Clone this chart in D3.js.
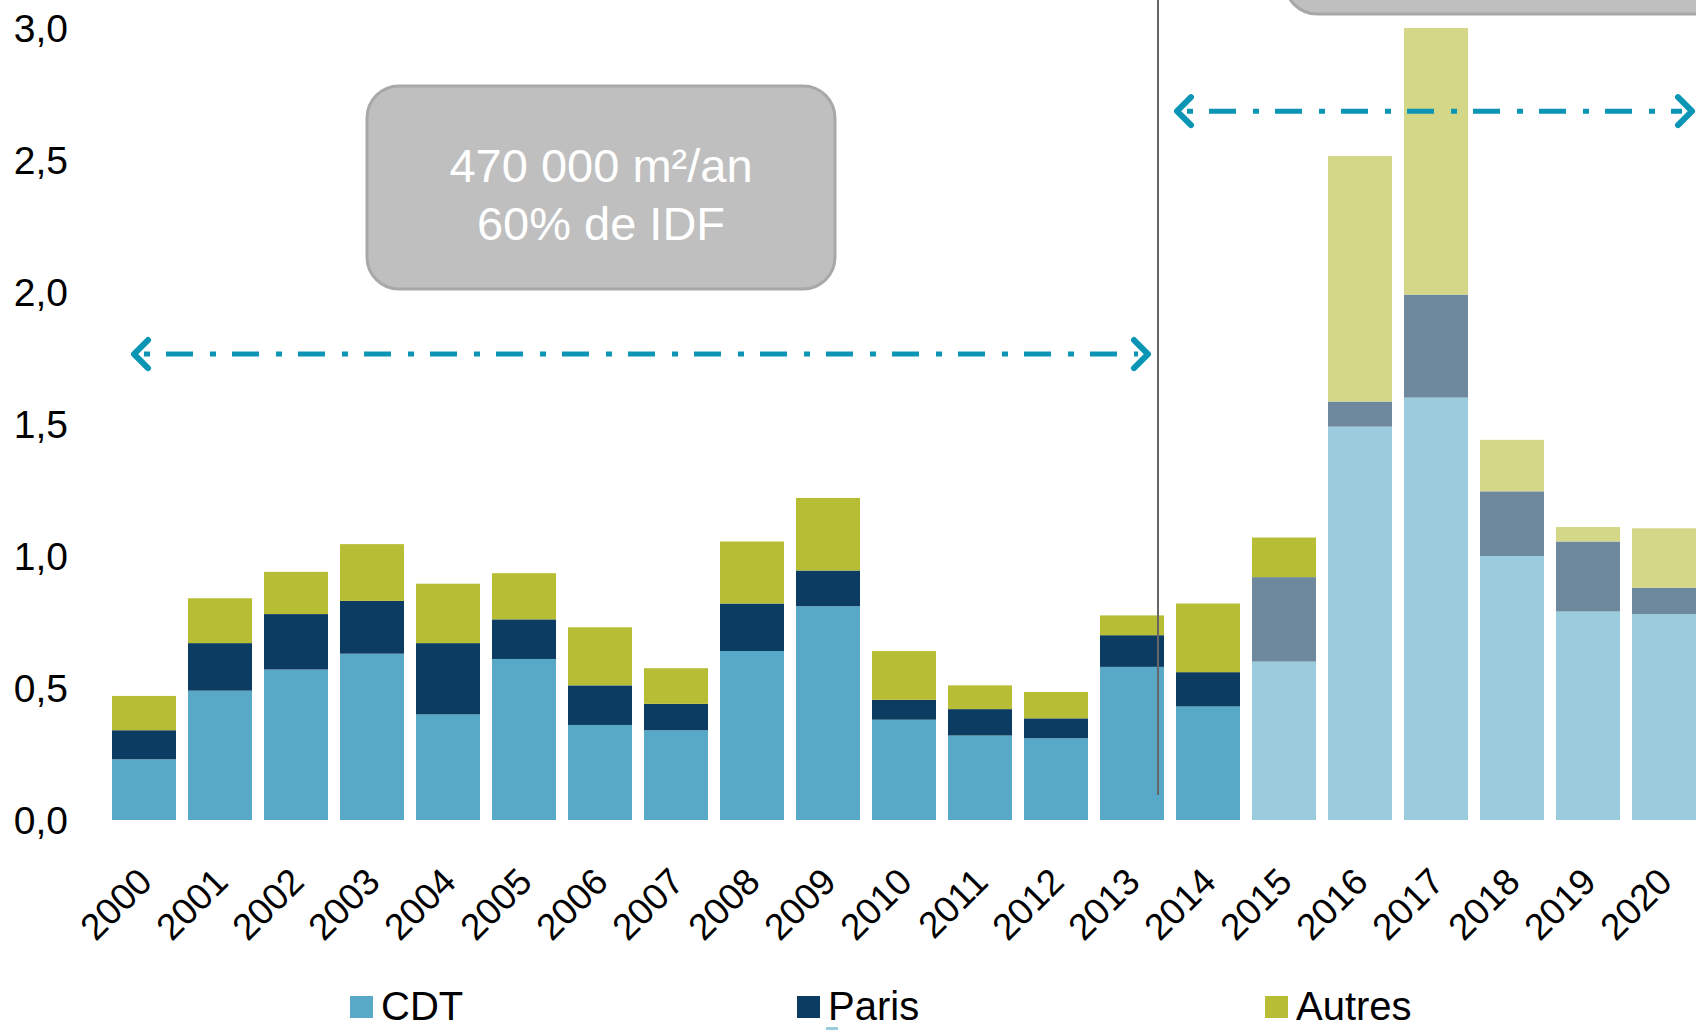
<!DOCTYPE html>
<html>
<head>
<meta charset="utf-8">
<script src="https://cdn.jsdelivr.net/npm/d3@7"></script>
<style>
  html, body { margin: 0; padding: 0; background: #fff; }
  svg { display: block; }
  text { font-family: "Liberation Sans", Arial, sans-serif; }
</style>
</head>
<body>
<svg id="chart" width="1696" height="1030"></svg>
<script>
// ---- data ----
const years = ["2000","2001","2002","2003","2004","2005","2006","2007","2008","2009","2010",
               "2011","2012","2013","2014","2015","2016","2017","2018","2019","2020"];
const cdt    = [0.23,0.49,0.57,0.63,0.40,0.61,0.36,0.34,0.64,0.81,0.38,0.32,0.31,0.58,0.43,0.60,1.49,1.60,1.00,0.79,0.78];
const paris  = [0.11,0.18,0.21,0.20,0.27,0.15,0.15,0.10,0.18,0.135,0.075,0.10,0.075,0.12,0.13,0.32,0.095,0.39,0.245,0.265,0.10];
const autres = [0.13,0.17,0.16,0.215,0.225,0.175,0.22,0.135,0.235,0.275,0.185,0.09,0.10,0.075,0.26,0.15,0.93,1.01,0.195,0.055,0.225];
const seriesNames = ["CDT","Paris","Autres"];
const projectedFrom = ["2015","2015","2016"]; // first year drawn in lighter (forecast) tint
const yTicks = [0,0.5,1.0,1.5,2.0,2.5,3.0];
const box1Lines = ["470 000 m²/an","60% de IDF"];

// ---- styles ----
const colors      = ["#57A9C7","#0C3C61","#B7BE35"];
const lightColors = ["#9BCCDD","#6E889E","#D4D787"];

const svg = d3.select("#chart");

const x = d3.scaleBand().domain(years).range([106, 1702]).paddingInner(0.158).paddingOuter(0.079);
const y = d3.scaleLinear().domain([0, 3]).range([820, 28]);

// stacked data
const table = years.map((yr, i) => ({year: yr, CDT: cdt[i], Paris: paris[i], Autres: autres[i]}));
const stacked = d3.stack().keys(seriesNames)(table);

// bars
const gBars = svg.append("g");
stacked.forEach((layer, si) => {
  gBars.selectAll(null).data(layer).enter().append("rect")
    .attr("x", d => x(d.data.year))
    .attr("width", x.bandwidth())
    .attr("y", d => y(d[1]))
    .attr("height", d => y(d[0]) - y(d[1]))
    .attr("fill", d => (+d.data.year >= +projectedFrom[si]) ? lightColors[si] : colors[si]);
});

// y axis labels
const fmt = v => d3.format(".1f")(v).replace(".", ",");
svg.append("g").selectAll("text").data(yTicks).enter().append("text")
  .attr("x", 68).attr("y", d => y(d)).attr("dy", "0.36em")
  .attr("text-anchor", "end").attr("font-size", 39).attr("fill", "#000")
  .text(fmt);

// x axis labels
svg.append("g").selectAll("text").data(years).enter().append("text")
  .attr("transform", d => `translate(${x(d) + x.bandwidth()/2 + 10},884) rotate(-45)`)
  .attr("text-anchor", "end").attr("font-size", 37).attr("fill", "#000")
  .text(d => d);

// vertical separator
svg.append("line")
  .attr("x1", 1158).attr("x2", 1158).attr("y1", 0).attr("y2", 795)
  .attr("stroke", "#666").attr("stroke-width", 2);

// annotation boxes
svg.append("rect").attr("x", 367).attr("y", 86).attr("width", 468).attr("height", 203)
  .attr("rx", 32).attr("ry", 32)
  .attr("fill", "#BFBFBF").attr("stroke", "#A8A8A8").attr("stroke-width", 3);
svg.append("g").selectAll("text").data(box1Lines).enter().append("text")
  .attr("x", 601).attr("y", (d, i) => 182 + i * 58)
  .attr("text-anchor", "middle").attr("font-size", 47).attr("fill", "#fff")
  .text(d => d);
svg.append("rect").attr("x", 1285).attr("y", -190).attr("width", 470).attr("height", 204)
  .attr("rx", 32).attr("ry", 32)
  .attr("fill", "#BFBFBF").attr("stroke", "#A8A8A8").attr("stroke-width", 3);

// dash-dot double arrows
const arrowColor = "#0A95B5";
function dblArrow(x1, x2, yy) {
  const g = svg.append("g").attr("stroke", arrowColor).attr("fill", "none")
    .attr("stroke-width", 5);
  g.append("line").attr("x1", x1 + 10).attr("x2", x2 - 10).attr("y1", yy).attr("y2", yy)
    .attr("stroke-dasharray", "6 16 27 17");
  const a = 14;
  g.append("path").attr("d", `M${x1 + a},${yy - a} L${x1},${yy} L${x1 + a},${yy + a}`)
    .attr("stroke-width", 6).attr("stroke-linecap", "round").attr("stroke-linejoin", "round");
  g.append("path").attr("d", `M${x2 - a},${yy - a} L${x2},${yy} L${x2 - a},${yy + a}`)
    .attr("stroke-width", 6).attr("stroke-linecap", "round").attr("stroke-linejoin", "round");
}
dblArrow(134, 1148, y(1.765));
dblArrow(1177, 1692, y(2.685));

// legend
const lg = svg.append("g");
const legendX = [350, 797, 1265];
seriesNames.forEach((n, i) => {
  lg.append("rect").attr("x", legendX[i]).attr("y", 996).attr("width", 23).attr("height", 22)
    .attr("fill", colors[i]);
  lg.append("text").attr("x", legendX[i] + 31).attr("y", 1020)
    .attr("font-size", 40).attr("fill", "#000").text(n);
});
// clipped second legend row (forecast tint)
lg.append("rect").attr("x", 826).attr("y", 1027).attr("width", 12).attr("height", 12)
  .attr("fill", lightColors[0]);
</script>
</body>
</html>
